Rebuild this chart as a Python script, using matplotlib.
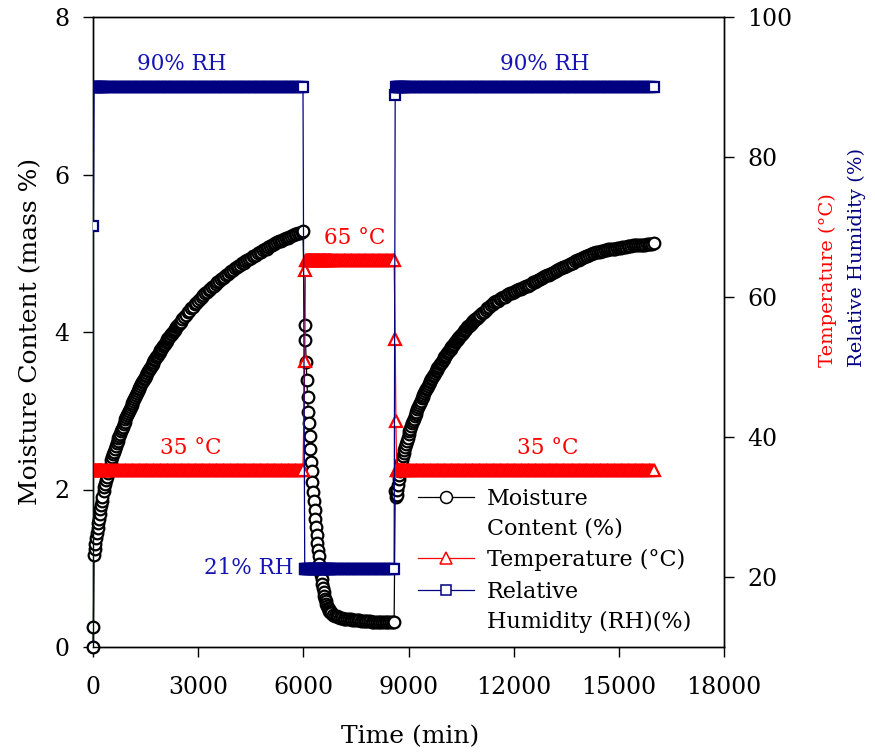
import matplotlib
matplotlib.use("Agg")
import matplotlib.pyplot as plt
from matplotlib.lines import Line2D

# ---------------- data ----------------
# Segment 1: sorption at 35 degC / 90 % RH
t_seg1 = [0, 10, 30, 50, 70, 90, 110, 130, 150, 170,
          190, 210, 230, 250, 270, 300,
          350, 400, 450, 500, 550, 600, 650, 700, 750, 800,
          850, 900, 950, 1000, 1050, 1100, 1150, 1200, 1250, 1300,
          1350, 1400, 1450, 1500, 1550, 1600, 1650, 1700, 1750, 1800,
          1850, 1900, 1950, 2000, 2050, 2100, 2150, 2200, 2250, 2300,
          2350, 2400, 2450, 2500, 2550, 2600, 2650, 2700, 2750, 2800,
          2850, 2900, 2950, 3000, 3050, 3100, 3150, 3200, 3250, 3300,
          3350, 3400, 3450, 3500, 3550, 3600, 3650, 3700, 3750, 3800,
          3850, 3900, 3950, 4000, 4050, 4100, 4150, 4200, 4250, 4300,
          4350, 4400, 4450, 4500, 4550, 4600, 4650, 4700, 4750, 4800,
          4850, 4900, 4950, 5000, 5050, 5100, 5150, 5200, 5250, 5300,
          5350, 5400, 5450, 5500, 5550, 5600, 5650, 5700, 5750, 5800,
          5850, 5900, 5950, 5990]
mc_seg1 = [0.00, 0.25, 1.17, 1.24, 1.31, 1.38, 1.45, 1.51, 1.57, 1.63,
           1.69, 1.75, 1.80, 1.86, 1.91, 1.98,
           2.07, 2.16, 2.25, 2.33, 2.41, 2.48, 2.55, 2.62, 2.68, 2.74,
           2.80, 2.86, 2.92, 2.97, 3.02, 3.07, 3.12, 3.17, 3.22, 3.27,
           3.31, 3.36, 3.40, 3.44, 3.48, 3.52, 3.56, 3.60, 3.64, 3.68,
           3.71, 3.75, 3.78, 3.82, 3.85, 3.89, 3.92, 3.95, 3.98, 4.01,
           4.04, 4.07, 4.10, 4.13, 4.16, 4.19, 4.22, 4.25, 4.27, 4.30,
           4.32, 4.35, 4.37, 4.40, 4.42, 4.44, 4.47, 4.49, 4.51, 4.53,
           4.55, 4.57, 4.59, 4.61, 4.63, 4.65, 4.67, 4.69, 4.70, 4.72,
           4.74, 4.76, 4.77, 4.79, 4.81, 4.82, 4.84, 4.85, 4.87, 4.88,
           4.90, 4.91, 4.93, 4.94, 4.96, 4.97, 4.98, 5.00, 5.01, 5.02,
           5.04, 5.05, 5.06, 5.08, 5.09, 5.10, 5.12, 5.13, 5.14, 5.15,
           5.16, 5.17, 5.18, 5.19, 5.20, 5.21, 5.22, 5.23, 5.24, 5.25,
           5.26, 5.26, 5.27, 5.28]
# extra moisture readings on the steep part of segment 1 (denser logging)
t_seg1_extra = [325, 375, 425, 475, 525, 575, 625, 675, 725, 775,
                825, 875, 925, 975, 1025, 1075, 1125, 1175, 1225, 1275,
                1325, 1375, 1425, 1475, 1525, 1575, 1625, 1675, 1725, 1775,
                1825, 1875, 1925, 1975, 2025, 2075, 2125, 2175, 2225, 2275,
                2325, 2375, 2425, 2475]
mc_seg1_extra = [2.03, 2.12, 2.21, 2.29, 2.37, 2.45, 2.52, 2.59, 2.65, 2.71,
                 2.77, 2.83, 2.89, 2.95, 3.00, 3.05, 3.10, 3.15, 3.20, 3.25,
                 3.29, 3.34, 3.38, 3.42, 3.46, 3.50, 3.54, 3.58, 3.62, 3.66,
                 3.70, 3.73, 3.77, 3.80, 3.84, 3.87, 3.91, 3.94, 3.97, 4.00,
                 4.03, 4.06, 4.09, 4.12]
temp_seg1 = [35.3, 35.3, 35.3, 35.3, 35.3, 35.3, 35.3, 35.3, 35.3, 35.3,
             35.3, 35.3, 35.3, 35.3, 35.3, 35.3,
             35.3, 35.3, 35.3, 35.3, 35.3, 35.3, 35.3, 35.3, 35.3, 35.3,
             35.3, 35.3, 35.3, 35.3, 35.3, 35.3, 35.3, 35.3, 35.3, 35.3,
             35.3, 35.3, 35.3, 35.3, 35.3, 35.3, 35.3, 35.3, 35.3, 35.3,
             35.3, 35.3, 35.3, 35.3, 35.3, 35.3, 35.3, 35.3, 35.3, 35.3,
             35.3, 35.3, 35.3, 35.3, 35.3, 35.3, 35.3, 35.3, 35.3, 35.3,
             35.3, 35.3, 35.3, 35.3, 35.3, 35.3, 35.3, 35.3, 35.3, 35.3,
             35.3, 35.3, 35.3, 35.3, 35.3, 35.3, 35.3, 35.3, 35.3, 35.3,
             35.3, 35.3, 35.3, 35.3, 35.3, 35.3, 35.3, 35.3, 35.3, 35.3,
             35.3, 35.3, 35.3, 35.3, 35.3, 35.3, 35.3, 35.3, 35.3, 35.3,
             35.3, 35.3, 35.3, 35.3, 35.3, 35.3, 35.3, 35.3, 35.3, 35.3,
             35.3, 35.3, 35.3, 35.3, 35.3, 35.3, 35.3, 35.3, 35.3, 35.3,
             35.3, 35.3, 35.3, 35.3]
rh_seg1 = [0.0, 70.2, 90.0, 90.0, 90.0, 90.0, 90.0, 90.0, 90.0, 90.0,
           90.0, 90.0, 90.0, 90.0, 90.0, 90.0,
           90.0, 90.0, 90.0, 90.0, 90.0, 90.0, 90.0, 90.0, 90.0, 90.0,
           90.0, 90.0, 90.0, 90.0, 90.0, 90.0, 90.0, 90.0, 90.0, 90.0,
           90.0, 90.0, 90.0, 90.0, 90.0, 90.0, 90.0, 90.0, 90.0, 90.0,
           90.0, 90.0, 90.0, 90.0, 90.0, 90.0, 90.0, 90.0, 90.0, 90.0,
           90.0, 90.0, 90.0, 90.0, 90.0, 90.0, 90.0, 90.0, 90.0, 90.0,
           90.0, 90.0, 90.0, 90.0, 90.0, 90.0, 90.0, 90.0, 90.0, 90.0,
           90.0, 90.0, 90.0, 90.0, 90.0, 90.0, 90.0, 90.0, 90.0, 90.0,
           90.0, 90.0, 90.0, 90.0, 90.0, 90.0, 90.0, 90.0, 90.0, 90.0,
           90.0, 90.0, 90.0, 90.0, 90.0, 90.0, 90.0, 90.0, 90.0, 90.0,
           90.0, 90.0, 90.0, 90.0, 90.0, 90.0, 90.0, 90.0, 90.0, 90.0,
           90.0, 90.0, 90.0, 90.0, 90.0, 90.0, 90.0, 90.0, 90.0, 90.0,
           90.0, 90.0, 90.0, 90.0]

# Segment 2: desorption at 65 degC / 21 % RH
t_dry = [6040, 6060, 6080, 6100, 6120, 6140, 6160, 6180, 6200, 6220,
         6240, 6260, 6280, 6300, 6320, 6340, 6360, 6380, 6400, 6420,
         6440, 6460, 6480, 6500, 6520, 6540, 6560, 6580, 6600, 6620,
         6640, 6660, 6680, 6700, 6720, 6740, 6760, 6780, 6800,
         6850, 6900, 6950, 7000, 7050, 7100, 7150, 7200, 7250, 7300,
         7350, 7400, 7450, 7500, 7550, 7600, 7650, 7700, 7750, 7800,
         7850, 7900, 7950, 8000, 8050, 8100, 8150, 8200, 8250, 8300,
         8350, 8400, 8450, 8500, 8550, 8590]
mc_dry = [4.09, 3.90, 3.62, 3.39, 3.18, 2.99, 2.84, 2.68, 2.52, 2.35,
          2.23, 2.09, 1.97, 1.85, 1.74, 1.63, 1.53, 1.42, 1.32, 1.23,
          1.15, 1.06, 0.99, 0.92, 0.86, 0.80, 0.75, 0.70, 0.65, 0.61,
          0.58, 0.55, 0.52, 0.50, 0.48, 0.46, 0.45, 0.44, 0.43,
          0.41, 0.40, 0.39, 0.38, 0.37, 0.37, 0.36, 0.36, 0.35, 0.35,
          0.35, 0.34, 0.34, 0.34, 0.34, 0.34, 0.33, 0.33, 0.33, 0.33,
          0.33, 0.33, 0.32, 0.32, 0.32, 0.32, 0.32, 0.32, 0.32, 0.32,
          0.32, 0.32, 0.32, 0.32, 0.32, 0.32]
temp_dry = [50.8, 63.9, 65.3, 65.3, 65.3, 65.3, 65.3, 65.3, 65.3, 65.3,
            65.3, 65.3, 65.3, 65.3, 65.3, 65.3, 65.3, 65.3, 65.3, 65.3,
            65.3, 65.3, 65.3, 65.3, 65.3, 65.3, 65.3, 65.3, 65.3, 65.3,
            65.3, 65.3, 65.3, 65.3, 65.3, 65.3, 65.3, 65.3, 65.3,
            65.3, 65.3, 65.3, 65.3, 65.3, 65.3, 65.3, 65.3, 65.3, 65.3,
            65.3, 65.3, 65.3, 65.3, 65.3, 65.3, 65.3, 65.3, 65.3, 65.3,
            65.3, 65.3, 65.3, 65.3, 65.3, 65.3, 65.3, 65.3, 65.3, 65.3,
            65.3, 65.3, 65.3, 65.3, 65.3, 65.3]
rh_dry = [21.1, 21.1, 21.1, 21.1, 21.1, 21.1, 21.1, 21.1, 21.1, 21.1,
          21.1, 21.1, 21.1, 21.1, 21.1, 21.1, 21.1, 21.1, 21.1, 21.1,
          21.1, 21.1, 21.1, 21.1, 21.1, 21.1, 21.1, 21.1, 21.1, 21.1,
          21.1, 21.1, 21.1, 21.1, 21.1, 21.1, 21.1, 21.1, 21.1,
          21.1, 21.1, 21.1, 21.1, 21.1, 21.1, 21.1, 21.1, 21.1, 21.1,
          21.1, 21.1, 21.1, 21.1, 21.1, 21.1, 21.1, 21.1, 21.1, 21.1,
          21.1, 21.1, 21.1, 21.1, 21.1, 21.1, 21.1, 21.1, 21.1, 21.1,
          21.1, 21.1, 21.1, 21.1, 21.1, 21.1]

# Segment 3: re-sorption at 35 degC / 90 % RH
t_seg3 = [8620, 8640, 8660, 8680, 8700, 8720, 8740, 8760, 8780, 8800,
          8820, 8840, 8860, 8880, 8900,
          8950, 9000, 9050, 9100, 9150, 9200, 9250, 9300, 9350, 9400,
          9450, 9500, 9550, 9600, 9650, 9700, 9750, 9800, 9850, 9900,
          9950, 10000, 10050, 10100, 10150, 10200, 10250, 10300, 10350, 10400,
          10450, 10500, 10550, 10600, 10650, 10700, 10750, 10800, 10850, 10900,
          10950, 11000, 11050, 11100, 11150, 11200, 11250, 11300, 11350, 11400,
          11450, 11500, 11550, 11600, 11650, 11700, 11750, 11800, 11850, 11900,
          11950, 12000, 12050, 12100, 12150, 12200, 12250, 12300, 12350, 12400,
          12450, 12500, 12550, 12600, 12650, 12700, 12750, 12800, 12850, 12900,
          12950, 13000, 13050, 13100, 13150, 13200, 13250, 13300, 13350, 13400,
          13450, 13500, 13550, 13600, 13650, 13700, 13750, 13800, 13850, 13900,
          13950, 14000, 14050, 14100, 14150, 14200, 14250, 14300, 14350, 14400,
          14450, 14500, 14550, 14600, 14650, 14700, 14750, 14800, 14850, 14900,
          14950, 15000, 15050, 15100, 15150, 15200, 15250, 15300, 15350, 15400,
          15450, 15500, 15550, 15600, 15650, 15700, 15750, 15800, 15850, 15900,
          15950, 16000]
mc_seg3 = [1.98, 1.91, 1.93, 1.99, 2.06, 2.13, 2.19, 2.24, 2.29, 2.34,
           2.38, 2.42, 2.46, 2.50, 2.54,
           2.62, 2.70, 2.77, 2.84, 2.90, 2.96, 3.02, 3.07, 3.13, 3.18,
           3.22, 3.27, 3.31, 3.36, 3.40, 3.44, 3.48, 3.52, 3.55, 3.59,
           3.62, 3.66, 3.69, 3.73, 3.76, 3.79, 3.82, 3.85, 3.88, 3.91,
           3.94, 3.96, 3.99, 4.02, 4.04, 4.07, 4.09, 4.11, 4.14, 4.16,
           4.18, 4.20, 4.22, 4.24, 4.26, 4.28, 4.30, 4.32, 4.34, 4.36,
           4.38, 4.39, 4.40, 4.42, 4.43, 4.44, 4.45, 4.47, 4.48, 4.49,
           4.50, 4.51, 4.52, 4.53, 4.54, 4.55, 4.56, 4.57, 4.58, 4.59,
           4.60, 4.61, 4.63, 4.64, 4.65, 4.66, 4.67, 4.69, 4.70, 4.71,
           4.72, 4.73, 4.74, 4.75, 4.76, 4.78, 4.79, 4.80, 4.81, 4.82,
           4.83, 4.84, 4.85, 4.86, 4.87, 4.88, 4.90, 4.91, 4.92, 4.93,
           4.94, 4.95, 4.96, 4.97, 4.98, 4.99, 5.00, 5.00, 5.01, 5.02,
           5.02, 5.03, 5.03, 5.04, 5.04, 5.05, 5.05, 5.06, 5.06, 5.06,
           5.07, 5.07, 5.07, 5.08, 5.08, 5.08, 5.09, 5.09, 5.09, 5.10,
           5.10, 5.10, 5.10, 5.11, 5.11, 5.11, 5.11, 5.12, 5.12, 5.12,
           5.12, 5.13]
# extra moisture readings on the steep part of segment 3
t_seg3_extra = [8925, 8975, 9025, 9075, 9125, 9175, 9225, 9275, 9325, 9375,
                9425, 9475, 9525, 9575, 9625, 9675, 9725, 9775, 9825, 9875,
                9925, 9975, 10025, 10075, 10125, 10175, 10225, 10275, 10325, 10375,
                10425, 10475, 10525, 10575, 10625, 10675, 10725, 10775, 10825, 10875,
                10925, 10975]
mc_seg3_extra = [2.58, 2.66, 2.74, 2.81, 2.87, 2.93, 2.99, 3.05, 3.10, 3.16,
                 3.20, 3.25, 3.29, 3.34, 3.38, 3.42, 3.46, 3.50, 3.54, 3.57,
                 3.61, 3.64, 3.68, 3.71, 3.75, 3.78, 3.81, 3.84, 3.87, 3.90,
                 3.93, 3.95, 3.98, 4.01, 4.03, 4.06, 4.08, 4.10, 4.13, 4.15,
                 4.17, 4.19]
temp_seg3 = [54.0, 42.3, 35.3, 35.3, 35.3, 35.3, 35.3, 35.3, 35.3, 35.3,
             35.3, 35.3, 35.3, 35.3, 35.3,
             35.3, 35.3, 35.3, 35.3, 35.3, 35.3, 35.3, 35.3, 35.3, 35.3,
             35.3, 35.3, 35.3, 35.3, 35.3, 35.3, 35.3, 35.3, 35.3, 35.3,
             35.3, 35.3, 35.3, 35.3, 35.3, 35.3, 35.3, 35.3, 35.3, 35.3,
             35.3, 35.3, 35.3, 35.3, 35.3, 35.3, 35.3, 35.3, 35.3, 35.3,
             35.3, 35.3, 35.3, 35.3, 35.3, 35.3, 35.3, 35.3, 35.3, 35.3,
             35.3, 35.3, 35.3, 35.3, 35.3, 35.3, 35.3, 35.3, 35.3, 35.3,
             35.3, 35.3, 35.3, 35.3, 35.3, 35.3, 35.3, 35.3, 35.3, 35.3,
             35.3, 35.3, 35.3, 35.3, 35.3, 35.3, 35.3, 35.3, 35.3, 35.3,
             35.3, 35.3, 35.3, 35.3, 35.3, 35.3, 35.3, 35.3, 35.3, 35.3,
             35.3, 35.3, 35.3, 35.3, 35.3, 35.3, 35.3, 35.3, 35.3, 35.3,
             35.3, 35.3, 35.3, 35.3, 35.3, 35.3, 35.3, 35.3, 35.3, 35.3,
             35.3, 35.3, 35.3, 35.3, 35.3, 35.3, 35.3, 35.3, 35.3, 35.3,
             35.3, 35.3, 35.3, 35.3, 35.3, 35.3, 35.3, 35.3, 35.3, 35.3,
             35.3, 35.3, 35.3, 35.3, 35.3, 35.3, 35.3, 35.3, 35.3, 35.3,
             35.3, 35.3]
rh_seg3 = [88.9, 90.0, 90.0, 90.0, 90.0, 90.0, 90.0, 90.0, 90.0, 90.0,
           90.0, 90.0, 90.0, 90.0, 90.0,
           90.0, 90.0, 90.0, 90.0, 90.0, 90.0, 90.0, 90.0, 90.0, 90.0,
           90.0, 90.0, 90.0, 90.0, 90.0, 90.0, 90.0, 90.0, 90.0, 90.0,
           90.0, 90.0, 90.0, 90.0, 90.0, 90.0, 90.0, 90.0, 90.0, 90.0,
           90.0, 90.0, 90.0, 90.0, 90.0, 90.0, 90.0, 90.0, 90.0, 90.0,
           90.0, 90.0, 90.0, 90.0, 90.0, 90.0, 90.0, 90.0, 90.0, 90.0,
           90.0, 90.0, 90.0, 90.0, 90.0, 90.0, 90.0, 90.0, 90.0, 90.0,
           90.0, 90.0, 90.0, 90.0, 90.0, 90.0, 90.0, 90.0, 90.0, 90.0,
           90.0, 90.0, 90.0, 90.0, 90.0, 90.0, 90.0, 90.0, 90.0, 90.0,
           90.0, 90.0, 90.0, 90.0, 90.0, 90.0, 90.0, 90.0, 90.0, 90.0,
           90.0, 90.0, 90.0, 90.0, 90.0, 90.0, 90.0, 90.0, 90.0, 90.0,
           90.0, 90.0, 90.0, 90.0, 90.0, 90.0, 90.0, 90.0, 90.0, 90.0,
           90.0, 90.0, 90.0, 90.0, 90.0, 90.0, 90.0, 90.0, 90.0, 90.0,
           90.0, 90.0, 90.0, 90.0, 90.0, 90.0, 90.0, 90.0, 90.0, 90.0,
           90.0, 90.0, 90.0, 90.0, 90.0, 90.0, 90.0, 90.0, 90.0, 90.0,
           90.0, 90.0]

x_ticks = [0, 3000, 6000, 9000, 12000, 15000, 18000]
y_left_ticks = [0, 2, 4, 6, 8]
y_right_ticks = [20, 40, 60, 80, 100]

# ---------------- figure ----------------
W, H = 875, 753
plt.rcParams['font.family'] = ['DejaVu Serif']
fig = plt.figure(figsize=(W / 100, H / 100), dpi=100)


def fx(px):
    return px / W


def fy(py):
    return 1 - py / H


ax = fig.add_axes([fx(93), fy(647), (724 - 93) / W, (647 - 17) / H])
ax2 = ax.twinx()

# moisture series: regular readings merged with the extra readings, in time order
mc_pairs = sorted(zip(t_seg1 + t_seg1_extra + t_dry + t_seg3 + t_seg3_extra,
                      mc_seg1 + mc_seg1_extra + mc_dry + mc_seg3 + mc_seg3_extra))
time_mc = [p[0] for p in mc_pairs]
mc_all = [p[1] for p in mc_pairs]

time_env = t_seg1 + t_dry + t_seg3
temp_all = temp_seg1 + temp_dry + temp_seg3
rh_all = rh_seg1 + rh_dry + rh_seg3

NAVY = '#000080'
RED = '#ff0000'
TXTBLUE = '#1414b4'
MEW = 1.6

ax.plot(time_mc, mc_all, color='black', lw=0.9, marker='o', ms=8.4,
        mfc='white', mec='black', mew=MEW, clip_on=False, zorder=3)
ax2.plot(time_env, temp_all, color=RED, lw=0.9, marker='^', ms=8.3,
         mfc='white', mec=RED, mew=MEW, zorder=3)
ax2.plot(time_env, rh_all, color=NAVY, lw=0.9, marker='s', ms=7.0,
         mfc='white', mec=NAVY, mew=MEW, zorder=4)

ax.set_xlim(0, 18000)
ax.set_ylim(0, 8)
ax2.set_ylim(10, 100)
ax.set_xticks(x_ticks)
ax.set_yticks(y_left_ticks)
ax2.set_yticks(y_right_ticks)
ax.set_xticklabels([str(v) for v in x_ticks])
ax.set_yticklabels([str(v) for v in y_left_ticks])
ax2.set_yticklabels([str(v) for v in y_right_ticks])

for a in (ax, ax2):
    for s in a.spines.values():
        s.set_linewidth(1.0)
        s.set_color('black')
ax.tick_params(axis='x', direction='out', length=7, width=1, labelsize=17, pad=14, top=False)
ax.tick_params(axis='y', direction='out', length=7, width=1, labelsize=17, pad=10)
ax2.tick_params(axis='y', direction='out', length=7, width=1, labelsize=17, pad=10)

# axis labels
fig.text(fx(410), fy(737), 'Time (min)', fontsize=18, ha='center', va='center')
fig.text(fx(31), fy(331), 'Moisture Content (mass %)', fontsize=18,
         rotation=90, ha='center', va='center')
fig.text(fx(828), fy(367), 'Temperature (°C)', fontsize=14, color=RED,
         rotation=90, ha='center', va='bottom')
fig.text(fx(857), fy(367), 'Relative Humidity (%)', fontsize=14, color=NAVY,
         rotation=90, ha='center', va='bottom')

# annotations
fig.text(fx(182), fy(64), '90% RH', fontsize=15.5, color=TXTBLUE, ha='center', va='center')
fig.text(fx(545), fy(64), '90% RH', fontsize=15.5, color=TXTBLUE, ha='center', va='center')
fig.text(fx(355), fy(238), '65 °C', fontsize=15.5, color=RED, ha='center', va='center')
fig.text(fx(191), fy(448), '35 °C', fontsize=15.5, color=RED, ha='center', va='center')
fig.text(fx(548), fy(448), '35 °C', fontsize=15.5, color=RED, ha='center', va='center')
fig.text(fx(293), fy(568), '21% RH', fontsize=15.5, color=TXTBLUE, ha='right', va='center')

# legend (manual, drawn in figure pixels)
legend_rows = [
    (497, 'black', 'o', 8.6, ['Moisture', 'Content (%)']),
    (558, RED, '^', 8.5, ['Temperature (°C)']),
    (590, NAVY, 's', 7.2, ['Relative', 'Humidity (RH)(%)']),
]
for ypx, col, mk, ms, lines in legend_rows:
    fig.add_artist(Line2D([fx(418), fx(474)], [fy(ypx), fy(ypx)], color=col, lw=0.9,
                          transform=fig.transFigure))
    fig.add_artist(Line2D([fx(446)], [fy(ypx)], color=col, marker=mk, ms=ms,
                          mfc='white', mec=col, mew=1.1, transform=fig.transFigure))
    for i, txt in enumerate(lines):
        fig.text(fx(487), fy(ypx + 2 + 30 * i), txt, fontsize=16, ha='left', va='center')

fig.savefig('out.png', dpi=100)
